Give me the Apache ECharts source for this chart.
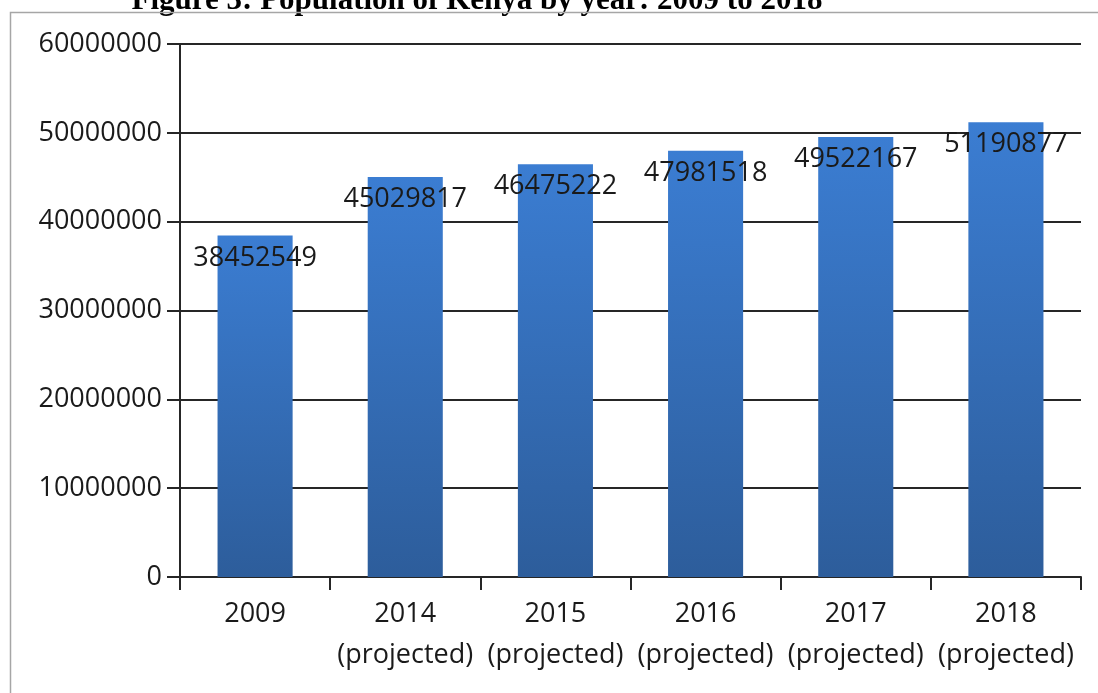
<!DOCTYPE html>
<html>
<head>
<meta charset="utf-8">
<script src="https://cdn.jsdelivr.net/npm/echarts@6/dist/echarts.min.js"></script>
<style>
html,body{margin:0;padding:0;background:#fff;}
#chart{width:1098px;height:693px;}
</style>
</head>
<body>
<div id="chart"></div>
<script>
const titleText = 'Figure 3: Population of Kenya by year: 2009 to 2018';
const categories = ['2009', '2014\n(projected)', '2015\n(projected)', '2016\n(projected)', '2017\n(projected)', '2018\n(projected)'];
const population = [38452549, 45029817, 46475222, 47981518, 49522167, 51190877];
const yTicks = [0, 10000000, 20000000, 30000000, 40000000, 50000000, 60000000];

const chart = echarts.init(document.getElementById('chart'), null, {renderer: 'canvas'});
const font = '"Open Sans", "Noto Sans", sans-serif';
chart.setOption({
  animation: false,
  backgroundColor: '#fff',
  graphic: [
    {type: 'rect', shape: {x: 10.5, y: 12.5, width: 1200, height: 800}, style: {fill: 'none', stroke: '#a6a6a6', lineWidth: 1.5}, z: -10},
    {type: 'text', x: 477, y: 16, z: -20, style: {text: titleText, font: 'bold 31px "Liberation Serif", serif', fill: '#000', textAlign: 'center', textVerticalAlign: 'bottom'}}
  ],
  grid: {left: 180, right: 17, top: 44, bottom: 116, containLabel: false},
  xAxis: {
    type: 'category',
    data: categories,
    axisLine: {show: true, lineStyle: {color: '#262626', width: 2}},
    axisTick: {show: true, length: 13, lineStyle: {color: '#262626', width: 2}},
    axisLabel: {fontFamily: font, fontSize: 27, color: '#1a1a1a', lineHeight: 41, margin: 17, interval: 0}
  },
  yAxis: {
    type: 'value',
    min: yTicks[0],
    max: yTicks[yTicks.length - 1],
    interval: yTicks[1] - yTicks[0],
    axisLine: {show: true, lineStyle: {color: '#262626', width: 2}},
    axisTick: {show: true, length: 13, lineStyle: {color: '#262626', width: 2}},
    splitLine: {show: true, lineStyle: {color: '#262626', width: 2}},
    axisLabel: {fontFamily: font, fontSize: 27, color: '#1a1a1a', margin: 18, formatter: function (v) { return String(v); }}
  },
  series: [{
    type: 'bar',
    data: population,
    barWidth: '50%',
    itemStyle: {
      color: new echarts.graphic.LinearGradient(0, 0, 0, 1, [
        {offset: 0, color: '#3b7dd2'},
        {offset: 1, color: '#2d5d9b'}
      ])
    },
    label: {show: true, position: 'insideTop', distance: 9, fontFamily: font, fontSize: 27, color: '#1a1a1a'}
  }]
});
</script>
</body>
</html>
